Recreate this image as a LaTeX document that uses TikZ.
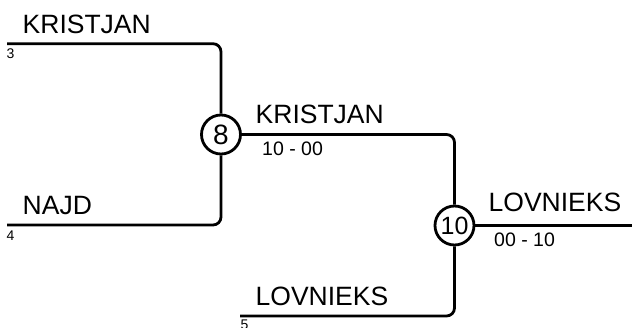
\documentclass[tikz,border=0pt]{standalone}
\usepackage{fontspec}
\setmainfont{Liberation Sans}

\begin{document}
\begin{tikzpicture}[x = 1pt, y = -1pt]
		\tikzstyle{every node} = [inner sep = 0pt]
		\tikzstyle{team} = [anchor = base west, font = \fontsize{26.5}{30}\selectfont]
		\tikzstyle{score} = [anchor = base west, font = \fontsize{19.5}{23}\selectfont]
		\tikzstyle{seed} = [anchor = base west, font = \fontsize{14}{16}\selectfont]
		\tikzstyle{match} = [draw, circle, line width = 2.8pt, minimum size = 39pt, font = \fontsize{28}{32}\selectfont]
		\tikzstyle{bracket} = [line width = 2.8pt, rounded corners = 8pt]
		
		\useasboundingbox (0,0) rectangle (632,327);
		
		\node[match] (m8) at (221,134.5) {8};
		\node[match, font = \fontsize{25}{30}\selectfont] (m10) at (454.5,225.5) {10};
		
		\coordinate (p3) at (7,43.7);
		\coordinate (p4) at (7,225);
		\coordinate (p5) at (240,316);
		\coordinate (win) at (632,225.5);
		
		\draw[bracket] (p3) -- (p3 -| m8) -- (m8.north); %seed 3 to match 8
		\draw[bracket] (p4) -- (p4 -| m8) -- (m8.south); %seed 4 to match 8
		\draw[bracket] (m8.east) -- (m8 -| m10) -- (m10.north); %match 8 to match 10
		\draw[bracket] (p5) -- (p5 -| m10) -- (m10.south); %seed 5 to match 10
		\draw[bracket] (m10.east) -- (win);
		
		\node[team] (t3) at (22.5,33) {KRISTJAN};
		\node[seed] (s3) at (6.5,58.5) {3};
		\node[team] (t4) at (22.5,214.3) {NAJD};
		\node[seed] (s4) at (6.5,240.5) {4};
		\node[team] (t8) at (255.5,123.3) {KRISTJAN};
		\node[score] (r8) at (262,155) {10 - 00};
		\node[team] (t10) at (488.5,211.7) {LOVNIEKS};
		\node[score] (r10) at (494,246) {00 - 10};
		\node[team] (t5) at (255.5,305) {LOVNIEKS};
		\node[seed] (s5) at (240.5,329.5) {5};
	\end{tikzpicture}
\end{document}
